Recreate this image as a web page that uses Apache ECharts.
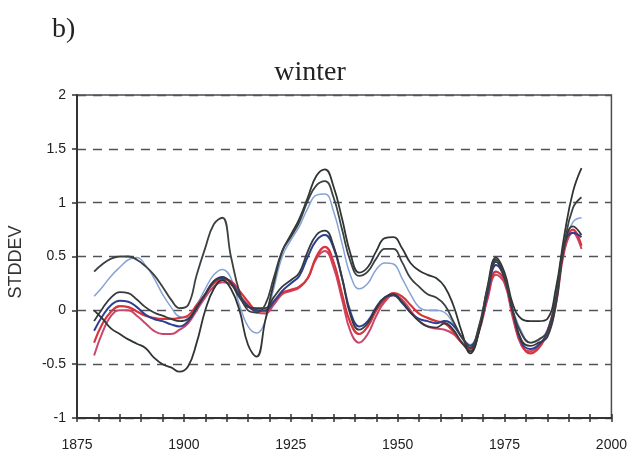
<!DOCTYPE html>
<html>
<head>
<meta charset="utf-8">
<script src="https://cdn.jsdelivr.net/npm/echarts@6/dist/echarts.min.js"></script>
<style>html,body{margin:0;padding:0;background:#fff}#c{width:630px;height:457px}</style>
</head>
<body>
<div id="c"></div>
<script>
// years sampled every 2 years
const years = [1879,1881,1883,1885,1887,1889,1891,1893,1895,1897,1899,1901,1903,1905,1907,1909,1911,1913,1915,1917,1919,1921,1923,1925,1927,1929,1931,1933,1935,1937,1939,1941,1943,1945,1947,1949,1951,1953,1955,1957,1959,1961,1963,1965,1967,1969,1971,1973,1975,1977,1979,1981,1983,1985,1987,1989,1991,1993];

const blackA = [0.36,0.43,0.48,0.5,0.5,0.47,0.41,0.33,0.22,0.1,0.02,0.05,0.33,0.58,0.8,0.86,0.5,0.17,0.0,-0.02,0.05,0.3,0.55,0.68,0.82,1.02,1.16,1.2,1.05,0.75,0.45,0.32,0.36,0.48,0.57,0.57,0.45,0.3,0.22,0.15,0.12,0.05,-0.1,-0.25,-0.35,-0.15,0.2,0.47,0.32,-0.02,-0.22,-0.3,-0.27,-0.2,0.1,0.62,0.95,1.05];
const blackB = [0.0,-0.08,-0.17,-0.22,-0.27,-0.31,-0.35,-0.44,-0.5,-0.53,-0.57,-0.52,-0.3,0.0,0.2,0.28,0.2,0.0,-0.32,-0.43,-0.1,0.25,0.55,0.7,0.85,1.05,1.25,1.31,1.15,0.85,0.52,0.35,0.4,0.55,0.67,0.68,0.58,0.44,0.37,0.33,0.3,0.22,0.05,-0.2,-0.4,-0.2,0.22,0.49,0.35,0.05,-0.08,-0.1,-0.1,-0.08,0.2,0.7,1.1,1.32];
const lightBlue = [0.13,0.22,0.32,0.4,0.47,0.49,0.42,0.3,0.15,0.03,-0.06,-0.07,0.05,0.2,0.33,0.38,0.3,0.05,-0.15,-0.21,-0.1,0.2,0.5,0.65,0.78,0.95,1.07,1.08,0.92,0.62,0.32,0.2,0.25,0.38,0.44,0.43,0.3,0.15,0.03,0.0,0.0,-0.02,-0.12,-0.25,-0.32,-0.15,0.18,0.42,0.3,0.0,-0.2,-0.3,-0.28,-0.18,0.1,0.6,0.82,0.86];
const darkGray = [-0.1,0.02,0.12,0.17,0.16,0.1,0.03,-0.02,-0.05,-0.08,-0.1,-0.08,0.03,0.15,0.27,0.31,0.25,0.12,0.03,0.02,0.02,0.12,0.22,0.28,0.35,0.55,0.7,0.74,0.6,0.3,-0.05,-0.18,-0.12,0.02,0.12,0.15,0.08,-0.02,-0.1,-0.15,-0.16,-0.12,-0.18,-0.3,-0.38,-0.2,0.18,0.45,0.3,-0.02,-0.28,-0.33,-0.3,-0.25,0.05,0.6,0.78,0.7];
const darkBlue = [-0.19,-0.05,0.05,0.09,0.08,0.03,-0.04,-0.08,-0.1,-0.13,-0.15,-0.1,0.02,0.15,0.27,0.3,0.26,0.14,0.04,0.0,0.0,0.08,0.18,0.25,0.32,0.5,0.65,0.7,0.58,0.3,-0.02,-0.15,-0.1,0.03,0.12,0.14,0.07,-0.02,-0.08,-0.1,-0.12,-0.1,-0.14,-0.25,-0.33,-0.18,0.15,0.42,0.3,-0.02,-0.3,-0.36,-0.32,-0.2,0.1,0.62,0.72,0.68];
const red1 = [-0.3,-0.12,-0.01,0.04,0.03,-0.01,-0.05,-0.07,-0.08,-0.08,-0.07,-0.05,0.05,0.15,0.25,0.29,0.27,0.18,0.08,0.0,-0.01,0.08,0.16,0.19,0.22,0.3,0.5,0.59,0.45,0.15,-0.12,-0.22,-0.15,0.0,0.1,0.16,0.13,0.05,-0.03,-0.07,-0.1,-0.12,-0.2,-0.3,-0.36,-0.18,0.12,0.36,0.28,-0.05,-0.32,-0.4,-0.35,-0.2,0.1,0.58,0.75,0.6];
const red2 = [-0.42,-0.2,-0.05,0.0,0.0,-0.05,-0.12,-0.19,-0.22,-0.22,-0.18,-0.12,0.0,0.12,0.22,0.26,0.24,0.14,0.05,-0.02,-0.03,0.05,0.15,0.18,0.21,0.3,0.48,0.55,0.4,0.1,-0.2,-0.3,-0.22,-0.05,0.08,0.14,0.1,0.0,-0.1,-0.15,-0.17,-0.18,-0.22,-0.3,-0.35,-0.2,0.1,0.33,0.25,-0.08,-0.33,-0.38,-0.33,-0.22,0.05,0.55,0.72,0.57];

const yTicks = [-1, -0.5, 0, 0.5, 1, 1.5, 2];
const xLabels = [1875, 1900, 1925, 1950, 1975, 2000];

function pairs(vals){ return years.map((y,i)=>[y, vals[i]]); }
function line(name, vals, color, width){
  return {name:name, type:'line', data:pairs(vals), smooth:0.45, symbol:'none',
    lineStyle:{color:color, width:width}, z:3};
}

const chart = echarts.init(document.getElementById('c'), null, {renderer:'canvas'});
chart.setOption({
  animation:false,
  backgroundColor:'#fff',
  grid:{left:77, right:18, top:95, bottom:39, show:true, borderColor:'#4a4d52', borderWidth:1.5, backgroundColor:'transparent'},
  graphic:[
    {type:'text', left:52, top:16, style:{text:'b)', font:'28px "Liberation Serif", "DejaVu Serif", serif', fill:'#222'}},
    {type:'text', x:310, y:73, style:{text:'winter', font:'28px "Liberation Serif", "DejaVu Serif", serif', fill:'#222', textAlign:'center', textVerticalAlign:'middle'}},
    {type:'text', x:16, y:262, rotation:Math.PI/2, style:{text:'STDDEV', font:'18px "Liberation Sans", Arial, sans-serif', fill:'#333', textAlign:'center', textVerticalAlign:'middle'}}
  ],
  xAxis:[
    {type:'value', min:1875, max:2000, interval:5,
     axisLine:{show:true, onZero:false, lineStyle:{color:'#333', width:2}},
     axisTick:{show:true, inside:false, length:4, lineStyle:{color:'#333', width:1.5}},
     axisLabel:{margin:20, color:'#222', fontSize:14, fontFamily:'"Liberation Sans", Arial, sans-serif',
       formatter:function(v){ return xLabels.indexOf(v) >= 0 ? String(v) : ''; }},
     splitLine:{show:false}},
    {type:'value', min:1875, max:2000, interval:5, position:'bottom',
     axisLine:{show:false, onZero:false}, axisLabel:{show:false},
     axisTick:{show:true, inside:true, length:4, lineStyle:{color:'#333', width:1.5}},
     splitLine:{show:false}}
  ],
  yAxis:{type:'value', min:-1, max:2, interval:0.5,
    axisLine:{show:true, onZero:false, lineStyle:{color:'#333', width:2}},
    axisTick:{show:true, length:5, lineStyle:{color:'#333', width:1.5}},
    axisLabel:{margin:11, color:'#222', fontSize:14, fontFamily:'"Liberation Sans", Arial, sans-serif',
      formatter:function(v){ return yTicks.indexOf(v) >= 0 ? String(v) : ''; }},
    splitLine:{show:true, lineStyle:{color:'#50545a', width:1.4, type:[9,7]}}
  },
  series:[
    line('lightBlue', lightBlue, '#86a3d6', 1.5),
    line('red2', red2, '#c8486c', 2),
    line('red1', red1, '#d8343e', 2.2),
    line('darkBlue', darkBlue, '#2d3f8e', 2),
    line('darkGray', darkGray, '#353a3c', 1.8),
    line('blackB', blackB, '#2f3434', 1.8),
    line('blackA', blackA, '#3b4040', 1.8)
  ]
});
</script>
</body>
</html>
